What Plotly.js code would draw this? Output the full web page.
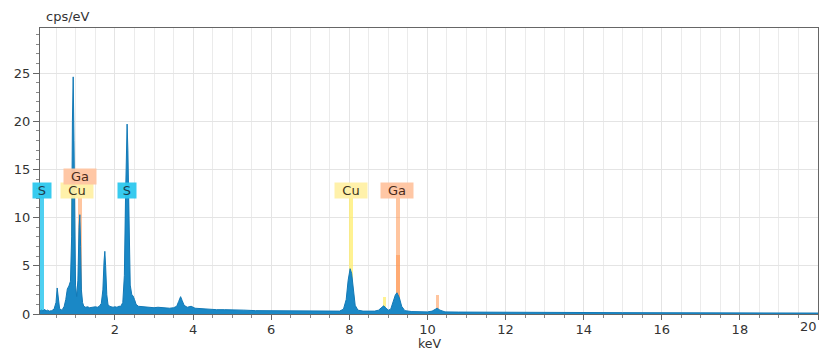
<!DOCTYPE html>
<html>
<head>
<meta charset="utf-8">
<script src="https://cdn.plot.ly/plotly-3.0.1.min.js"></script>
<style>
  html, body { margin: 0; padding: 0; background: #fff; }
  #chart { width: 821px; height: 350px; }
</style>
</head>
<body>
<div id="chart"></div>
<script>
// EDS spectrum: energy (keV) vs. counts (cps/eV)
const energy = [
  0.08, 0.12, 0.16, 0.20, 0.23, 0.27, 0.32, 0.38, 0.44, 0.49, 0.52, 0.55, 0.58, 0.62, 0.66,
  0.70, 0.74, 0.78, 0.82, 0.86, 0.89, 0.91, 0.93, 0.95, 0.97, 0.99, 1.02, 1.05, 1.08, 1.10,
  1.12, 1.14, 1.17, 1.20, 1.25, 1.30, 1.35, 1.40, 1.45, 1.50, 1.55, 1.60, 1.65, 1.69, 1.72,
  1.74, 1.76, 1.79, 1.82, 1.86, 1.90, 1.95, 2.00, 2.05, 2.10, 2.15, 2.20, 2.24, 2.27, 2.29,
  2.31, 2.33, 2.36, 2.39, 2.43, 2.46, 2.50, 2.54, 2.60, 2.70, 2.80, 2.90, 3.00, 3.10, 3.20,
  3.30, 3.40, 3.50, 3.58, 3.63, 3.68, 3.72, 3.77, 3.85, 3.95, 4.05, 4.20, 4.40, 4.60, 4.80,
  5.00, 5.30, 5.60, 6.00, 6.40, 6.80, 7.20, 7.50, 7.75, 7.85, 7.92, 7.97, 8.02, 8.06, 8.10,
  8.15, 8.22, 8.35, 8.50, 8.65, 8.75, 8.82, 8.88, 8.94, 9.00, 9.06, 9.12, 9.18, 9.22, 9.28,
  9.34, 9.42, 9.60, 9.80, 10.00, 10.12, 10.20, 10.25, 10.32, 10.45, 10.80, 11.50, 12.50, 13.50, 15.00,
  17.00, 20.00
];
const counts = [
  0.3, 0.4, 0.3, 0.5, 0.3, 0.4, 0.3, 0.35, 0.5, 1.2, 2.7, 1.3, 0.6, 0.4, 0.5,
  0.8, 1.5, 2.6, 2.9, 3.4, 8.0, 20.0, 24.6, 18.0, 6.0, 3.0, 1.8, 3.5, 9.0, 10.3,
  7.0, 2.5, 1.2, 0.8, 0.7, 0.75, 0.65, 0.7, 0.7, 0.75, 0.7, 0.8, 1.1, 2.5, 5.5,
  6.5, 5.0, 2.0, 1.0, 0.8, 0.75, 0.7, 0.75, 0.7, 0.8, 0.8, 1.2, 4.0, 12.0, 18.0,
  19.7, 17.0, 8.0, 3.0, 2.0, 1.9, 1.5, 1.0, 0.8, 0.75, 0.7, 0.7, 0.65, 0.7, 0.65,
  0.6, 0.6, 0.65, 0.8, 1.3, 1.8, 1.4, 0.9, 0.7, 0.8, 0.6, 0.55, 0.5, 0.45, 0.45,
  0.4, 0.4, 0.35, 0.35, 0.3, 0.3, 0.3, 0.28, 0.3, 0.5, 1.5, 3.5, 4.7, 4.2, 2.5,
  0.9, 0.4, 0.3, 0.3, 0.3, 0.4, 0.7, 0.85, 0.6, 0.4, 0.5, 1.2, 2.0, 2.2, 1.7,
  0.8, 0.35, 0.25, 0.25, 0.22, 0.3, 0.5, 0.6, 0.4, 0.22, 0.2, 0.18, 0.16, 0.15, 0.14,
  0.12, 0.1
];

// Element line markers (energy in keV, marker height in cps/eV)
const sLineE = [0.13, 2.31];
const sLineH = [12.1, 12.1];
const cuLineE = [0.93, 8.04, 8.90];
const cuLineH = [12.1, 12.1, 1.8];
const gaLineE = [1.10, 9.25, 9.25, 10.26];
const gaLineH = [12.1, 12.1, 6.1, 2.0];

// Element labels
const labelText = ['S', 'Cu', 'Ga', 'S', 'Cu', 'Ga'];
const labelE = [0.13, 1.04, 1.11, 2.32, 8.03, 9.22];
const labelY = [12.85, 12.85, 14.3, 12.85, 12.85, 12.85];
const labelKind = ['S', 'Cu', 'Ga', 'S', 'Cu', 'Ga'];

// Axis ticks
const xTickVals = [2, 4, 6, 8, 10, 12, 14, 16, 18, 20];
const yTickVals = [0, 5, 10, 15, 20, 25];
const xMax = 20;

const palette = {
  S:  { line: 'rgba(70,205,240,0.95)', box: 'rgba(45,200,238,0.95)', text: '#1d3d4d' },
  Cu: { line: 'rgba(255,238,110,0.75)', box: 'rgba(255,240,165,0.95)', text: '#3a3320' },
  Ga: { line: 'rgba(255,150,80,0.55)', box: 'rgba(255,196,160,0.95)', text: '#4a2a1a' }
};

const markerTrace = (e, h, color) => ({
  type: 'bar', x: e, y: h, width: 0.09,
  marker: { color: color, line: { width: 0 } },
  hoverinfo: 'skip', showlegend: false
});

const traces = [
  markerTrace(sLineE, sLineH, palette.S.line),
  {
    type: 'scatter', mode: 'lines', x: energy, y: counts,
    fill: 'tozeroy', fillcolor: '#1a88c6',
    line: { color: '#1279b6', width: 1 },
    hoverinfo: 'skip', showlegend: false
  },
  markerTrace(cuLineE, cuLineH, palette.Cu.line),
  markerTrace(gaLineE, gaLineH, palette.Ga.line)
];

const annotations = labelText.map((t, i) => ({
  x: labelE[i], y: labelY[i], xref: 'x', yref: 'y',
  text: t, showarrow: false,
  font: { family: 'DejaVu Sans', size: 13, color: palette[labelKind[i]].text },
  bgcolor: palette[labelKind[i]].box,
  width: t.length === 1 ? 18 : 32, height: 15, borderpad: 0,
  xanchor: 'center', yanchor: 'middle'
}));

// axis caption above the plot
annotations.push({
  xref: 'paper', yref: 'paper', x: 0, y: 1, xshift: 4, yshift: 2,
  xanchor: 'left', yanchor: 'bottom', showarrow: false,
  text: 'cps/eV', font: { family: 'DejaVu Sans', size: 13, color: '#333' }
});
// x-axis caption under the tick labels
annotations.push({
  xref: 'paper', yref: 'paper', x: 0.5, y: 0, yshift: -21, borderpad: 0,
  xanchor: 'center', yanchor: 'top', showarrow: false,
  text: 'keV', font: { family: 'DejaVu Sans', size: 12.5, color: '#333' }
});
// last tick label, kept inside the page edge
annotations.push({
  xref: 'x', yref: 'paper', x: xMax, y: 0, yshift: -3, xshift: 1,
  xanchor: 'right', yanchor: 'top', showarrow: false,
  text: String(xMax), font: { family: 'DejaVu Sans', size: 13, color: '#333' }
});

const layout = {
  width: 821, height: 350,
  margin: { l: 40, r: 3, t: 28, b: 36 },
  paper_bgcolor: '#fff', plot_bgcolor: '#fff',
  barmode: 'overlay', bargap: 0,
  showlegend: false,
  font: { family: 'DejaVu Sans', size: 13, color: '#333' },
  xaxis: {
    range: [0.08, xMax], tickvals: xTickVals,
    ticktext: xTickVals.map(v => v === xMax ? '' : String(v)),
    ticks: 'outside', ticklen: 5, tickcolor: '#666',
    ticklabelstandoff: -2,
    showline: true, linecolor: '#666', mirror: true,
    showgrid: true, gridcolor: '#e4e4e4',
    minor: { dtick: 0.5, tick0: 0, ticks: 'outside', ticklen: 3, tickcolor: '#888', showgrid: true, gridcolor: '#ebebeb' },
    zeroline: false,
    tickfont: { size: 13, color: '#333' }
  },
  yaxis: {
    range: [0, 29.67], tickvals: yTickVals, ticktext: yTickVals.map(String),
    ticks: 'outside', ticklen: 6, tickcolor: '#666',
    showline: true, linecolor: '#666', mirror: true,
    showgrid: true, gridcolor: '#e4e4e4',
    minor: { dtick: 1, tick0: 0, ticks: 'outside', ticklen: 3, tickcolor: '#888', showgrid: false },
    zeroline: false,
    tickfont: { size: 13, color: '#333' }
  },
  yaxis2: {
    overlaying: 'y', anchor: 'x', side: 'left',
    range: [0, 29.67], dtick: 2.5, tick0: 0,
    showgrid: true, gridcolor: '#ebebeb',
    showticklabels: false, ticks: '', showline: false, zeroline: false
  },
  annotations: annotations
};

Plotly.newPlot('chart', traces, layout, { staticPlot: true, displayModeBar: false });
</script>
</body>
</html>
